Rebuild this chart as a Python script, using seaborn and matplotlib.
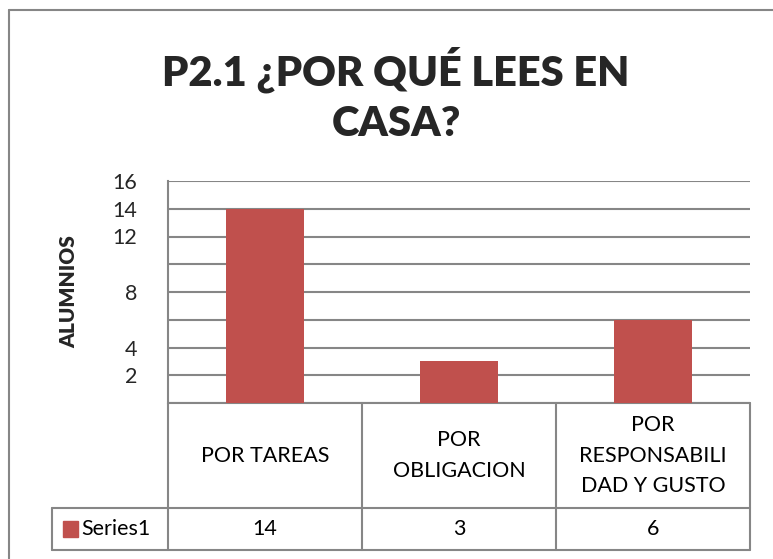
import matplotlib
matplotlib.use("Agg")
import matplotlib.pyplot as plt
import matplotlib.transforms as mtransforms
from matplotlib.lines import Line2D
from matplotlib.patches import Rectangle
import pandas as pd
import seaborn as sns

categories = ["POR TAREAS", "POR\nOBLIGACION", "POR\nRESPONSABILI\nDAD Y GUSTO"]
values = [14, 3, 6]
series_name = "Series1"
y_ticks = [0, 2, 4, 6, 8, 10, 12, 14, 16]
y_labels = ["", "2", "4", "", "8", "", "12", "14", "16"]

bar_color = "#C0504D"
line_color = "#868686"

sns.set_theme(style="white")
plt.rcParams["font.family"] = ["Lato", "DejaVu Sans"]

df = pd.DataFrame({"cat": categories, "val": values})

fig = plt.figure(figsize=(7.73, 5.59), dpi=100)
W, H = 773, 559
ax = fig.add_axes([168 / W, (H - 403) / H, 582 / W, 222 / H])

sns.barplot(data=df, x="cat", y="val", color=bar_color, width=0.4,
            saturation=1, linewidth=0, ax=ax, zorder=3)

ax.set_ylim(0, 16)
ax.set_xlim(-0.5, 2.5)
ax.set_yticks(y_ticks, y_labels, fontsize=15.5)
ax.set_xticks([])
ax.set_xlabel("")
ax.set_ylabel("ALUMNIOS", fontsize=15, fontweight="heavy", labelpad=25)
ax.tick_params(axis="y", length=0, pad=22)
ax.yaxis.grid(True, color=line_color, lw=1.5, zorder=0)
for s in ["right", "bottom", "top"]:
    ax.spines[s].set_visible(False)
ax.spines["left"].set_color(line_color)
ax.spines["left"].set_linewidth(1.5)

# data table under the plot
tr = mtransforms.blended_transform_factory(ax.transData, ax.transAxes)
y_head = -105 / 222
y_row = -147 / 222
x_leg = -0.5 - (168 - 52) / 194
kw = dict(transform=tr, color=line_color, lw=1.5, clip_on=False)
for xb in [-0.5, 0.5, 1.5, 2.5]:
    ax.add_line(Line2D([xb, xb], [0, y_row], **kw))
ax.add_line(Line2D([-0.5, 2.5], [0, 0], **kw))
ax.add_line(Line2D([x_leg, 2.5], [y_head, y_head], **kw))
ax.add_line(Line2D([x_leg, 2.5], [y_row, y_row], **kw))
ax.add_line(Line2D([x_leg, x_leg], [y_head, y_row], **kw))

for i, (c, v) in enumerate(zip(categories, values)):
    ax.text(i, y_head / 2, c, transform=tr, ha="center", va="center",
            fontsize=15.5, linespacing=1.65, color="black")
    ax.text(i, (y_head + y_row) / 2, str(v), transform=tr, ha="center",
            va="center", fontsize=15.5, color="black")

ax.add_patch(Rectangle((x_leg + 0.055, (y_head + y_row) / 2 - 0.035), 0.08, 0.07,
                       transform=tr, color=bar_color, clip_on=False))
ax.text(x_leg + 0.15, (y_head + y_row) / 2, series_name, transform=tr,
        ha="left", va="center", fontsize=15.5, color="black")

# title
fig.text(396 / W, 1 - 70 / H, "P2.1 ¿POR QUÉ LEES EN", ha="center", va="center",
         fontsize=30, fontweight="heavy")
fig.text(396 / W, 1 - 124 / H, "CASA?", ha="center", va="center",
         fontsize=30, fontweight="heavy")

# outer chart frame
fig.add_artist(Line2D([9 / W, 9 / W], [0, 1 - 10 / H], color=line_color, lw=1.5))
fig.add_artist(Line2D([9 / W, 1], [1 - 10 / H, 1 - 10 / H], color=line_color, lw=1.5))

fig.savefig("out.png", dpi=100)
